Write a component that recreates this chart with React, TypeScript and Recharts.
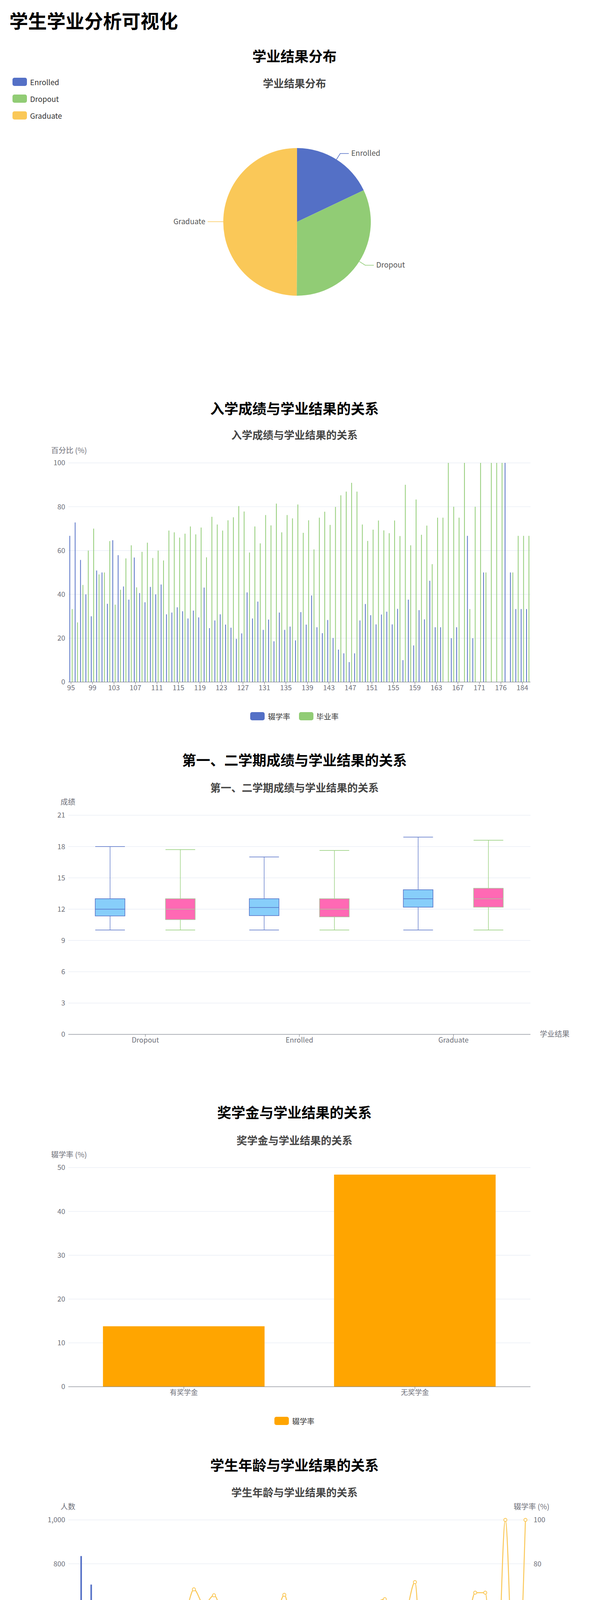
import React from 'react';
import {
  PieChart, Pie, Cell, BarChart, Bar, XAxis, YAxis, CartesianGrid,
  ComposedChart, Line,
} from 'recharts';

const FONT = "'Noto Sans CJK SC', 'Noto Sans', sans-serif";
const AX = '#6E7079';
const GRID = '#E0E6F1';
const BLUE = '#5470c6';
const GREEN = '#91cc75';
const YELLOW = '#fac858';

// ---- pie ----
const outcomeNames = ['Enrolled', 'Dropout', 'Graduate'];
const outcomeCounts = [794, 1421, 2209];
const pieColors = [BLUE, GREEN, YELLOW];

// ---- admission grade ----
const gradeCats = [
  '95','96','97','98','99','100','101','102','103','104',
  '105','106','107','108','109','110','111','112','113','114',
  '115','116','117','118','119','120','121','122','123','124',
  '125','126','127','128','129','130','131','132','133','134',
  '135','136','137','138','139','140','141','142','143','144',
  '145','146','147','148','149','150','151','152','153','154',
  '155','156','157','158','159','160','161','162','163','164',
  '165','166','167','168','169','170','171',
  '172','173','174','176','178','180','182','184','186',
];
const gradeDropout = [
  66.7,72.8,55.7,40,30,50.9,50,35.7,64.7,57.9,
  43.6,37.6,56.8,40.6,36.4,43.4,40,44.5,30.9,31.7,
  34.1,32.3,29,32.6,29.5,43.1,24.6,28.1,30.9,26.2,
  24.8,19.7,22.2,40.9,29,36.7,23.8,28.5,18.6,31.7,
  23.8,25.3,19,31.9,26.2,39.5,25,22.3,28.3,20.1,
  14.8,13.1,9.1,13.1,28.1,35.6,30.5,26.3,30.8,32.1,
  26.3,33.4,10,37.6,16.7,32.8,28.6,46.2,25,25,
  0,20,25,0,66.7,20,0,
  50,0,0,0,100,50,33.3,33.3,33.3,
];
const gradeGraduate = [
  33.3,27.2,44.3,60,70,49.1,50,64.3,35.3,42.1,
  56.4,62.4,43.2,59.4,63.6,56.6,60,55.5,69.1,68.3,
  65.9,67.7,71,67.4,70.5,56.9,75.4,71.9,69.1,73.8,
  75.2,80.3,77.8,59.1,71,63.3,76.2,71.5,81.4,68.3,
  76.2,74.7,81,68.1,73.8,60.5,75,77.7,71.7,79.9,
  85.2,86.9,90.9,86.9,71.9,64.4,69.5,73.7,69.2,67.9,
  73.7,66.6,90,62.4,83.3,67.2,71.4,53.8,75,75,
  100,80,75,100,33.3,80,100,
  50,100,100,100,0,50,66.7,66.7,66.7,
];

// ---- box plot ----
const boxCats = ['Dropout', 'Enrolled', 'Graduate'];
// [min, q1, median, q3, max]
const sem1Stats = [
  [10, 11.35, 12, 13, 18],
  [10, 11.38, 12.16, 13, 17],
  [10, 12.19, 13, 13.86, 18.9],
];
const sem2Stats = [
  [10, 11, 12, 13, 17.71],
  [10, 11.26, 12, 13, 17.62],
  [10, 12.19, 13, 14, 18.6],
];

// ---- scholarship ----
const scholarCats = ['有奖学金', '无奖学金'];
const scholarDropout = [13.8, 48.4];

// ---- age ----
const ageCats = [
  '17','18','19','20','21','22','23','24','25','26',
  '27','28','29','30','31','32','33','34','35','36',
  '37','38','39','40','41','42','43','44','45','46',
  '47','48','49','50','51','52','53','54','55',
  '57','58','59','60','61','62','70',
];
const ageBlue = [
  5,835,705,467,229,117,68,76,47,43,
  37,37,22,20,20,29,26,32,21,15,
  20,11,21,11,21,7,15,12,10,7,
  8,5,7,8,3,4,4,3,2,
  1,1,1,2,0,1,0,
];
const ageGreen = [
  0,200,206,134,94,58,42,57,47,52,
  55,47,46,31,37,34,21,30,30,22,
  23,20,19,14,12,7,12,11,14,7,
  12,8,8,10,5,0,3,3,2,
  1,2,2,0,1,0,1,
];
const ageRate = [
  0,19.5,22.8,22.2,28.9,33.5,38.1,42.8,50.7,55.4,
  60.6,56.7,68.3,61.3,65.6,54.2,44.5,48.4,59.3,60.1,
  54.9,65.8,47.4,56.6,35.5,54,44,47.7,59.3,50,
  61.3,63.8,53.9,56.3,71.6,0,43,57.4,60,
  50,66.8,66.8,0,100,0,100,
];

const pieData = outcomeNames.map((n, i) => ({ name: n, value: outcomeCounts[i] }));
const gradeData = gradeCats.map((c, i) => ({ cat: c, d: gradeDropout[i], g: gradeGraduate[i] }));
const boxData = boxCats.map((c, i) => ({ cat: c, s1: sem1Stats[i], s2: sem2Stats[i] }));
const scholarData = scholarCats.map((c, i) => ({ cat: c, v: scholarDropout[i] }));
const ageData = ageCats.map((c, i) => ({ cat: c, b: ageBlue[i], g: ageGreen[i], r: ageRate[i] }));

const W = 1493;
const tick = { fill: AX, fontSize: 18, fontFamily: FONT };

const Txt = ({ top, left, center, size, weight, color, children }: any) => (
  <div style={{
    position: 'absolute', top: top - size * 0.7, left: center ? 0 : left, width: center ? W : undefined,
    textAlign: center ? 'center' : 'left', fontSize: size, fontWeight: weight || 'normal',
    color: color || '#000', lineHeight: `${size * 1.4}px`, whiteSpace: 'nowrap',
  }}>{children}</div>
);

const LegendBox = ({ items, vertical }: any) => (
  <div style={{ display: 'flex', flexDirection: vertical ? 'column' : 'row', justifyContent: 'center', gap: vertical ? 16 : 22, fontFamily: FONT }}>
    {items.map((it: any) => (
      <div key={it.name} style={{ display: 'flex', alignItems: 'center', gap: 8 }}>
        <div style={{ width: 37, height: 21, borderRadius: 5, background: it.color }} />
        <span style={{ fontSize: 19, color: '#333' }}>{it.name}</span>
      </div>
    ))}
  </div>
);

const RAD = Math.PI / 180;
const pieLabel = (p: any) => {
  const { cx, cy, midAngle, outerRadius, index, name } = p;
  const c = Math.cos(-midAngle * RAD), s = Math.sin(-midAngle * RAD);
  const x1 = cx + outerRadius * c, y1 = cy + outerRadius * s;
  const x2 = cx + (outerRadius + 18) * c, y2 = cy + (outerRadius + 18) * s;
  const dir = c >= 0 ? 1 : -1;
  const x3 = x2 + dir * 22;
  return (
    <g>
      <polyline points={`${x1},${y1} ${x2},${y2} ${x3},${y2}`} fill="none" stroke={pieColors[index]} strokeWidth={1.5} />
      <text x={x3 + dir * 6} y={y2} dy={6} textAnchor={dir > 0 ? 'start' : 'end'} fontSize={19} fill="#555" fontFamily={FONT}>{name}</text>
    </g>
  );
};

const BoxShape = (props: any) => {
  const { x, y, width, height, payload, k, stroke, fill, medColor } = props;
  const st = payload[k];
  const min = st[0], max = st[4];
  const sy = (v: number) => y + (height * (max - v)) / (max - min);
  const cxp = x + width / 2;
  const bw = 76;
  const l = cxp - bw / 2, r = cxp + bw / 2;
  return (
    <g>
      <line x1={cxp} x2={cxp} y1={sy(max)} y2={sy(st[3])} stroke={stroke} strokeWidth={1.3} />
      <line x1={cxp} x2={cxp} y1={sy(st[1])} y2={sy(min)} stroke={stroke} strokeWidth={1.3} />
      <line x1={l} x2={r} y1={sy(max)} y2={sy(max)} stroke={stroke} strokeWidth={1.5} />
      <line x1={l} x2={r} y1={sy(min)} y2={sy(min)} stroke={stroke} strokeWidth={1.5} />
      <rect x={l} y={sy(st[3])} width={bw} height={sy(st[1]) - sy(st[3])} fill={fill} stroke={medColor} strokeWidth={1.5} />
      <line x1={l} x2={r} y1={sy(st[2])} y2={sy(st[2])} stroke={medColor} strokeWidth={1.5} />
    </g>
  );
};

const abs = (top: number): React.CSSProperties => ({ position: 'absolute', top, left: 0 });

export default function App() {
  return (
    <div style={{ position: 'relative', width: W, height: 4570, fontFamily: FONT, background: '#fff' }}>
      <Txt top={44} left={16} size={48} weight="bold">学生学业分析可视化</Txt>

      {/* Pie */}
      <Txt top={134} center size={36} weight="bold">学业结果分布</Txt>
      <Txt top={205} center size={27} weight="bold" color="#464646">学业结果分布</Txt>
      <div style={{ position: 'absolute', top: 188, left: 24 }}>
        <LegendBox vertical items={outcomeNames.map((n, i) => ({ name: n, color: pieColors[i] }))} />
      </div>
      <div style={abs(182)}>
        <PieChart width={W} height={700}>
          <Pie data={pieData} dataKey="value" nameKey="name" cx={748} cy={373} outerRadius={189}
            startAngle={90} endAngle={-270} isAnimationActive={false} label={pieLabel} labelLine={false} stroke="none">
            {pieData.map((d, i) => <Cell key={d.name} fill={pieColors[i]} />)}
          </Pie>
        </PieChart>
      </div>

      {/* Admission grade */}
      <Txt top={1036} center size={36} weight="bold">入学成绩与学业结果的关系</Txt>
      <Txt top={1105} center size={27} weight="bold" color="#464646">入学成绩与学业结果的关系</Txt>
      <Txt top={1144} left={123} size={19} color={AX}>百分比 (%)</Txt>
      <div style={abs(1137)}>
        <BarChart width={W} height={760} data={gradeData} margin={{ top: 40, right: 142, left: 107, bottom: 129 }}
          barGap="30%" barCategoryGap="20%">
          <CartesianGrid vertical={false} stroke={GRID} />
          <XAxis dataKey="cat" interval={3} tick={tick} stroke={AX} height={30} tickLine={{ stroke: AX }} />
          <YAxis domain={[0, 100]} ticks={[0, 20, 40, 60, 80, 100]} tick={tick} axisLine={false} tickLine={false} width={60} />
          <Bar dataKey="d" name="辍学率" fill={BLUE} isAnimationActive={false} />
          <Bar dataKey="g" name="毕业率" fill={GREEN} isAnimationActive={false} />
        </BarChart>
      </div>
      <div style={{ position: 'absolute', top: 1812, left: 0, width: W }}>
        <LegendBox items={[{ name: '辍学率', color: BLUE }, { name: '毕业率', color: GREEN }]} />
      </div>

      {/* Box */}
      <Txt top={1936} center size={36} weight="bold">第一、二学期成绩与学业结果的关系</Txt>
      <Txt top={2008} center size={27} weight="bold" color="#464646">第一、二学期成绩与学业结果的关系</Txt>
      <Txt top={2044} left={147} size={19} color={AX}>成绩</Txt>
      <Txt top={2638} left={1375} size={19} color={AX}>学业结果</Txt>
      <div style={abs(2039)}>
        <ComposedChart width={W} height={700} data={boxData} margin={{ top: 40, right: 142, left: 107, bottom: 69 }}
          barGap={0} barSize={180}>
          <CartesianGrid vertical={false} stroke={GRID} />
          <XAxis dataKey="cat" tick={tick} stroke={AX} height={30} tickLine={{ stroke: AX }} />
          <YAxis domain={[0, 21]} ticks={[0, 3, 6, 9, 12, 15, 18, 21]} tick={tick} axisLine={false} tickLine={false} width={60} />
          <Bar dataKey={(d: any) => [d.s1[0], d.s1[4]]} name="第一学期" isAnimationActive={false}
            shape={(p: any) => <BoxShape {...p} k="s1" stroke={BLUE} fill="#87CEFA" medColor={BLUE} />} />
          <Bar dataKey={(d: any) => [d.s2[0], d.s2[4]]} name="第二学期" isAnimationActive={false}
            shape={(p: any) => <BoxShape {...p} k="s2" stroke={GREEN} fill="#FF69B4" medColor="#a8c59a" />} />
        </ComposedChart>
      </div>

      {/* Scholarship */}
      <Txt top={2838} center size={36} weight="bold">奖学金与学业结果的关系</Txt>
      <Txt top={2911} center size={27} weight="bold" color="#464646">奖学金与学业结果的关系</Txt>
      <Txt top={2947} left={123} size={19} color={AX}>辍学率 (%)</Txt>
      <div style={abs(2941)}>
        <BarChart width={W} height={700} data={scholarData} margin={{ top: 40, right: 142, left: 107, bottom: 69 }}
          barCategoryGap="15%">
          <CartesianGrid vertical={false} stroke={GRID} />
          <XAxis dataKey="cat" tick={tick} stroke={AX} height={30} tickLine={{ stroke: AX }} />
          <YAxis domain={[0, 50]} ticks={[0, 10, 20, 30, 40, 50]} tick={tick} axisLine={false} tickLine={false} width={60} />
          <Bar dataKey="v" name="辍学率" fill="#FFA500" isAnimationActive={false} />
        </BarChart>
      </div>
      <div style={{ position: 'absolute', top: 3616, left: 0, width: W }}>
        <LegendBox items={[{ name: '辍学率', color: '#FFA500' }]} />
      </div>

      {/* Age */}
      <Txt top={3741} center size={36} weight="bold">学生年龄与学业结果的关系</Txt>
      <Txt top={3812} center size={27} weight="bold" color="#464646">学生年龄与学业结果的关系</Txt>
      <Txt top={3848} left={147} size={19} color={AX}>人数</Txt>
      <Txt top={3848} left={1308} size={19} color={AX}>辍学率 (%)</Txt>
      <div style={abs(3843)}>
        <ComposedChart width={W} height={700} data={ageData} margin={{ top: 40, right: 82, left: 107, bottom: 69 }}
          barGap="30%" barCategoryGap="20%">
          <CartesianGrid vertical={false} stroke={GRID} yAxisId="l" />
          <XAxis dataKey="cat" interval={1} tick={tick} stroke={AX} height={30} tickLine={{ stroke: AX }} />
          <YAxis yAxisId="l" domain={[0, 1000]} ticks={[0, 200, 400, 600, 800, 1000]} tick={tick}
            tickFormatter={(v: number) => v.toLocaleString('en-US')} axisLine={false} tickLine={false} width={60} />
          <YAxis yAxisId="r" orientation="right" domain={[0, 100]} ticks={[0, 20, 40, 60, 80, 100]} tick={tick}
            axisLine={false} tickLine={false} width={60} />
          <Bar yAxisId="l" dataKey="b" name="辍学人数" fill={BLUE} isAnimationActive={false} />
          <Bar yAxisId="l" dataKey="g" name="毕业人数" fill={GREEN} isAnimationActive={false} />
          <Line yAxisId="r" dataKey="r" name="辍学率" type="monotone" stroke={YELLOW} strokeWidth={2.5}
            dot={{ r: 4, stroke: YELLOW, strokeWidth: 2, fill: '#fff' }} isAnimationActive={false} />
        </ComposedChart>
      </div>
    </div>
  );
}
